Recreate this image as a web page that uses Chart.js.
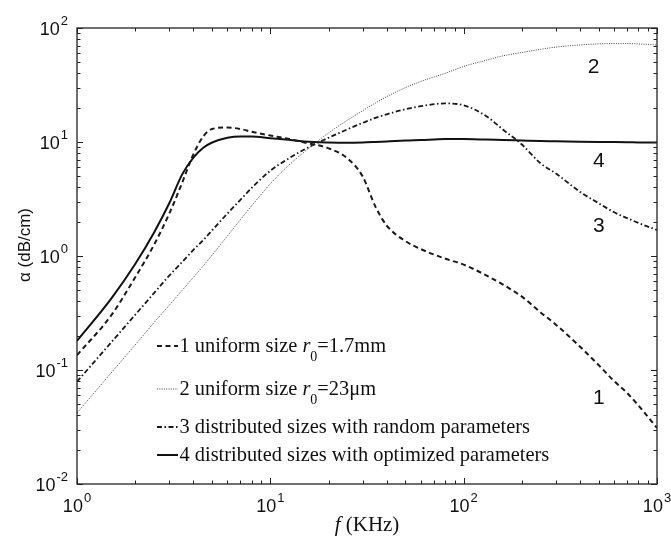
<!DOCTYPE html>
<html>
<head>
<meta charset="utf-8">
<script src="https://cdn.jsdelivr.net/npm/chart.js@4.4.1/dist/chart.umd.min.js"></script>
<style>
  html, body { margin: 0; padding: 0; background: #fff; }
  #wrap { width: 671px; height: 538px; }
</style>
</head>
<body>
<div id="wrap"><canvas id="chart" width="671" height="538"></canvas></div>
<script>
// frequency grid (KHz) and attenuation alpha (dB/cm)
const freq = [1, 1.5, 2, 2.5, 3, 3.5, 4, 4.5, 5, 6, 7, 8, 10, 12, 15, 20, 25, 30, 35, 40,
  50, 60, 80, 100, 130, 160, 200, 250, 300, 400, 500, 600, 700, 800, 1000];
const uniform17mm = [0.135, 0.3, 0.65, 1.25, 2.35, 4.4, 7.8, 11.2, 13.0, 13.4, 13.0, 12.3, 11.4, 10.8, 9.9, 8.8, 7.2, 5.0, 2.7, 1.85,
  1.35, 1.15, 0.95, 0.84, 0.68, 0.56, 0.44, 0.32, 0.25, 0.16, 0.11, 0.08, 0.063, 0.049, 0.031];
const uniform23um = [0.042, 0.094, 0.166, 0.26, 0.37, 0.5, 0.65, 0.82, 1.02, 1.5, 2.08, 2.75, 4.3, 5.9, 8.2, 12.0, 15.5, 18.8, 22.0, 25.0,
  30, 34, 40, 46, 52, 57, 61, 65, 68, 71, 72.5, 73, 73, 72.5, 71];
const randomDist = [0.079, 0.174, 0.305, 0.472, 0.673, 0.887, 1.13, 1.38, 1.68, 2.36, 3.11, 3.95, 5.6, 6.9, 8.6, 10.9, 12.9, 14.7, 16.3, 17.5,
  19.4, 20.6, 21.8, 21.0, 17.0, 12.8, 9.5, 6.5, 5.3, 3.65, 2.9, 2.42, 2.15, 1.95, 1.69];
const optimizedDist = [0.18, 0.42, 0.85, 1.6, 2.9, 5.2, 7.3, 8.9, 9.9, 10.9, 11.2, 11.2, 10.8, 10.5, 10.1, 9.9, 9.85, 9.9, 10.0, 10.1,
  10.3, 10.4, 10.6, 10.6, 10.5, 10.4, 10.3, 10.2, 10.15, 10.05, 10.0, 9.98, 9.95, 9.92, 9.88];

const legendLabels = ['1 uniform size r_0=1.7mm', '2 uniform size r_0=23\u03bcm',
  '3 distributed sizes with random parameters', '4 distributed sizes with optimized parameters'];
// curve numbers and where they sit (data coordinates)
const curveTags = ['1', '2', '3', '4'];
const tagFreq = [500, 470, 500, 500];
const tagAlpha = [0.057, 45, 1.83, 6.8];
// tick labels: 10^exp
const xDecades = [1, 10, 100, 1000];
const xExps = ['0', '1', '2', '3'];
const yDecades = [0.01, 0.1, 1, 10, 100];
const yExps = ['-2', '-1', '0', '1', '2'];

const SERIF = '"Liberation Serif", "Times New Roman", serif';
const SANS = '"Liberation Sans", Arial, sans-serif';

const pts = arr => freq.map((f, i) => ({ x: f, y: arr[i] }));
const lineStyle = { pointRadius: 0, fill: false, cubicInterpolationMode: 'monotone' };

const datasets = [
  { label: legendLabels[0], data: pts(uniform17mm), borderColor: '#1a1a1a', borderWidth: 2, borderDash: [5, 3.5], ...lineStyle },
  { label: legendLabels[1], data: pts(uniform23um), borderColor: '#444', borderWidth: 1, borderDash: [1, 1.3], ...lineStyle },
  { label: legendLabels[2], data: pts(randomDist), borderColor: '#1a1a1a', borderWidth: 1.8, borderDash: [5, 2.5, 1.5, 2.5], ...lineStyle },
  { label: legendLabels[3], data: pts(optimizedDist), borderColor: '#111', borderWidth: 2, borderDash: [], ...lineStyle }
];

function drawPower(ctx, exp, xLeft, baseline, expRaise) {
  ctx.font = '18px ' + SANS;
  const w10 = ctx.measureText('10').width;
  ctx.fillText('10', xLeft, baseline);
  ctx.font = '13px ' + SANS;
  ctx.fillText(exp, xLeft + w10 + 1, baseline - expRaise);
}
function powerWidth(ctx, exp) {
  ctx.font = '18px ' + SANS;
  const w = ctx.measureText('10').width + 1;
  ctx.font = '13px ' + SANS;
  return w + ctx.measureText(exp).width;
}

// legend text with italic r and subscript 0
function drawLegendText(ctx, str, x, baseline) {
  const m = str.match(/^(.*?)r_0(.*)$/);
  const parts = m ? [[m[1], ''], ['r', 'italic '], ['0', 'sub'], [m[2], '']] : [[str, '']];
  parts.forEach(([t, kind]) => {
    if (kind === 'sub') {
      ctx.font = '14px ' + SERIF;
      ctx.fillText(t, x, baseline + 9);
    } else {
      ctx.font = kind + '20.4px ' + SERIF;
      ctx.fillText(t, x, baseline);
    }
    x += ctx.measureText(t).width;
  });
}

const frame = {
  id: 'frame',
  afterDatasetsDraw(chart) {
    const { ctx, chartArea: a, scales: { x, y } } = chart;
    ctx.save();
    ctx.strokeStyle = '#222';
    ctx.fillStyle = '#111';
    ctx.lineWidth = 1.3;
    ctx.setLineDash([]);
    ctx.strokeRect(a.left, a.top, a.right - a.left, a.bottom - a.top);

    // inward ticks on all four sides
    ctx.lineWidth = 1;
    ctx.beginPath();
    xDecades.forEach(d => {
      for (let m = 1; m < 10; m++) {
        const v = d * m;
        if (v > x.max + 1e-9) break;
        const px = Math.round(x.getPixelForValue(v)) + 0.5;
        const len = m === 1 ? 6 : 3.5;
        ctx.moveTo(px, a.bottom); ctx.lineTo(px, a.bottom - len);
        ctx.moveTo(px, a.top); ctx.lineTo(px, a.top + len);
      }
    });
    yDecades.forEach(d => {
      for (let m = 1; m < 10; m++) {
        const v = d * m;
        if (v > y.max * 1.0001) break;
        const py = Math.round(y.getPixelForValue(v)) + 0.5;
        const len = m === 1 ? 6 : 3.5;
        ctx.moveTo(a.left, py); ctx.lineTo(a.left + len, py);
        ctx.moveTo(a.right, py); ctx.lineTo(a.right - len, py);
      }
    });
    ctx.stroke();

    // tick labels
    ctx.textAlign = 'left';
    ctx.textBaseline = 'alphabetic';
    xDecades.forEach((d, i) => {
      const px = x.getPixelForValue(d);
      const w = powerWidth(ctx, xExps[i]);
      drawPower(ctx, xExps[i], px - w / 2, a.bottom + 28, 10);
    });
    yDecades.forEach((d, i) => {
      const py = y.getPixelForValue(d);
      const w = powerWidth(ctx, yExps[i]);
      drawPower(ctx, yExps[i], 68 - w, py + 7, 10);
    });

    // axis titles
    ctx.font = 'italic 21px ' + SERIF;
    const wf = ctx.measureText('f').width;
    ctx.font = '21px ' + SERIF;
    const wk = ctx.measureText(' (KHz)').width;
    const cx = (a.left + a.right) / 2;
    const tx = cx - (wf + wk) / 2;
    ctx.font = 'italic 21px ' + SERIF;
    ctx.fillText('f', tx, 531);
    ctx.font = '21px ' + SERIF;
    ctx.fillText(' (KHz)', tx + wf, 531);

    ctx.save();
    ctx.translate(25, 245);
    ctx.rotate(-Math.PI / 2);
    ctx.textAlign = 'center';
    ctx.textBaseline = 'middle';
    ctx.font = '17px ' + SANS;
    ctx.fillText('\u03b1 (dB/cm)', 0, 0);
    ctx.restore();

    // legend inside the axes
    const baselines = [352, 395, 433, 461];
    chart.data.datasets.forEach((ds, i) => {
      const ly = baselines[i] - 6;
      ctx.beginPath();
      ctx.strokeStyle = ds.borderColor;
      ctx.lineWidth = ds.borderWidth;
      ctx.setLineDash(ds.borderDash);
      ctx.moveTo(157, ly); ctx.lineTo(178, ly);
      ctx.stroke();
      ctx.setLineDash([]);
      ctx.fillStyle = '#111';
      drawLegendText(ctx, ds.label, 179.5, baselines[i]);
    });

    // curve numbers
    ctx.font = '21px ' + SANS;
    ctx.textAlign = 'center';
    ctx.textBaseline = 'middle';
    curveTags.forEach((t, i) => {
      ctx.fillText(t, x.getPixelForValue(tagFreq[i]), y.getPixelForValue(tagAlpha[i]));
    });
    ctx.restore();
  }
};

new Chart(document.getElementById('chart'), {
  type: 'line',
  data: { datasets },
  options: {
    responsive: false,
    animation: false,
    layout: { padding: { left: 77, right: 14, top: 28, bottom: 54 } },
    plugins: { legend: { display: false }, tooltip: { enabled: false } },
    scales: {
      x: { type: 'logarithmic', min: 1, max: 1000, display: false },
      y: { type: 'logarithmic', min: 0.01, max: 100, display: false }
    }
  },
  plugins: [frame]
});
</script>
</body>
</html>
